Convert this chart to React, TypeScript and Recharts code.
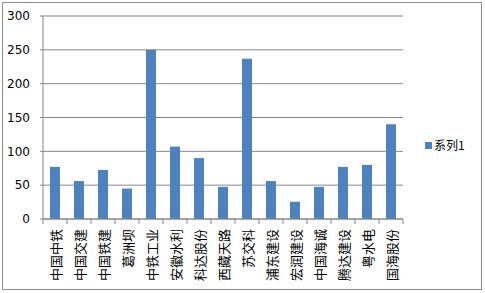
import React from "react";
import { BarChart, Bar, XAxis, YAxis, CartesianGrid } from "recharts";

const categories = [
  "中国中铁", "中国交建", "中国铁建", "葛洲坝", "中铁工业",
  "安徽水利", "科达股份", "西藏天路", "苏交科", "浦东建设",
  "宏润建设", "中国海诚", "腾达建设", "粤水电", "国海股份",
];
const series1 = [77, 56, 72.5, 45, 250, 107, 90, 47.5, 237, 56, 25.5, 47.5, 77, 80, 140];
const yTicks = [0, 50, 100, 150, 200, 250, 300];
const seriesName = "系列1";

const BLUE = "#4F81BD";
const GRID = "#868686";
const CJK = "'Noto Sans CJK SC', sans-serif";

const data = categories.map((name, i) => ({ name, value: series1[i] }));

function CategoryTick(props: any) {
  const { x, y, payload, index } = props;
  const half = payload.offset ?? 0;
  const last = index === categories.length - 1;
  return (
    <g>
      <line x1={x - half} x2={x - half} y1={y - 10} y2={y - 5} stroke={GRID} />
      {last && <line x1={x + half} x2={x + half} y1={y - 10} y2={y - 5} stroke={GRID} />}
      <text
        x={x}
        y={y}
        transform={`rotate(-90 ${x} ${y})`}
        textAnchor="end"
        dominantBaseline="central"
        fontSize={13}
        fontFamily={CJK}
        fill="#000"
      >
        {payload.value}
      </text>
    </g>
  );
}

export default function App() {
  return (
    <div style={{ position: "absolute", left: 0, top: 0, width: 485, height: 293, background: "#fff" }}>
      <div
        style={{
          position: "absolute",
          left: 2,
          top: 2,
          width: 478,
          height: 286,
          border: "1px solid #8c8c8c",
        }}
      />
      <BarChart
        width={485}
        height={293}
        data={data}
        margin={{ top: 16, right: 82, left: 0, bottom: 0 }}
      >
        <CartesianGrid vertical={false} stroke={GRID} />
        <XAxis
          dataKey="name"
          interval={0}
          tickLine={false}
          axisLine={{ stroke: GRID }}
          tickSize={0}
          tick={<CategoryTick />}
          tickMargin={10}
          height={74}
        />
        <YAxis
          domain={[0, 300]}
          ticks={yTicks}
          width={43}
          tickSize={3}
          tickMargin={10}
          axisLine={{ stroke: GRID }}
          tickLine={{ stroke: GRID }}
          tick={{ fill: "#000", fontSize: 12, fontFamily: "'DejaVu Sans', sans-serif" }}
        />
        <Bar dataKey="value" name={seriesName} fill={BLUE} barSize={10} isAnimationActive={false} />
      </BarChart>
      <div
        style={{
          position: "absolute",
          left: 425,
          top: 136,
          display: "flex",
          alignItems: "center",
          fontFamily: CJK,
          fontSize: 12,
          lineHeight: "18px",
        }}
      >
        <span style={{ display: "inline-block", width: 7, height: 7, background: BLUE, marginRight: 2 }} />
        <span>{seriesName}</span>
      </div>
    </div>
  );
}
